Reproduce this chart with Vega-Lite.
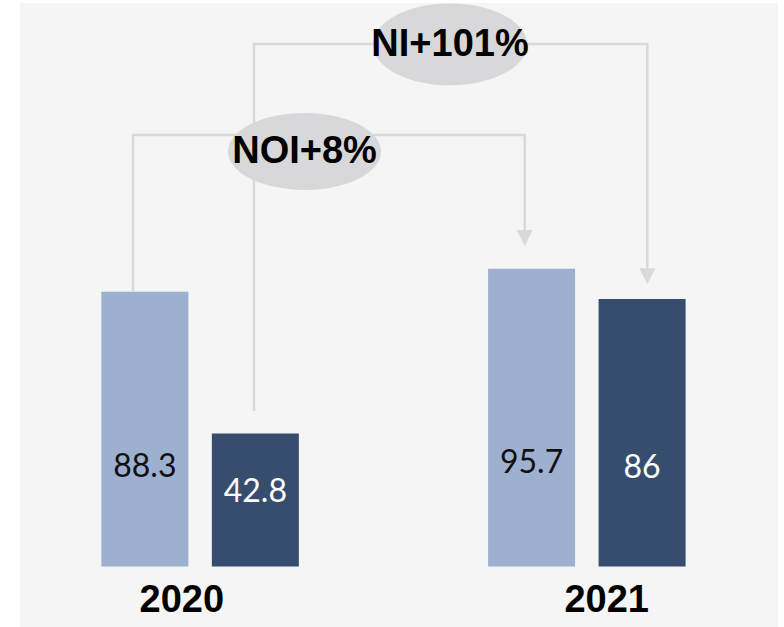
{
  "$schema": "https://vega.github.io/schema/vega-lite/v6.json",
  "width": 758,
  "height": 624,
  "autosize": {"type": "none"},
  "padding": {"left": 20, "top": 3, "right": 6, "bottom": 0},
  "background": "#ffffff",
  "config": {"view": {"fill": "#f5f5f5", "stroke": null}},
  "datasets": {
    "bars": [
      {"year": "2020", "metric": "NOI", "pos": 0, "value": 88.3},
      {"year": "2020", "metric": "NI", "pos": 1, "value": 42.8},
      {"year": "2021", "metric": "NOI", "pos": 3.5, "value": 95.7},
      {"year": "2021", "metric": "NI", "pos": 4.5, "value": 86}
    ],
    "links": [
      {"metric": "NOI", "step": 1, "pos": -0.107, "y": 88.3},
      {"metric": "NOI", "step": 2, "pos": -0.107, "y": 138.7},
      {"metric": "NOI", "step": 3, "pos": 3.438, "y": 138.7},
      {"metric": "NOI", "step": 4, "pos": 3.438, "y": 108.2},
      {"metric": "NI", "step": 1, "pos": 0.988, "y": 50},
      {"metric": "NI", "step": 2, "pos": 0.988, "y": 167.9},
      {"metric": "NI", "step": 3, "pos": 4.547, "y": 167.9},
      {"metric": "NI", "step": 4, "pos": 4.547, "y": 95.9}
    ],
    "badges": [
      {"label": "NI+101%", "pos": 2.762, "y": 167.8},
      {"label": "NOI+8%", "pos": 1.445, "y": 133.4}
    ],
    "years": [
      {"year": "2020", "pos": 0.334},
      {"year": "2021", "pos": 4.18}
    ]
  },
  "layer": [
    {
      "data": {"name": "bars"},
      "mark": {"type": "bar", "width": 87},
      "encoding": {
        "x": {"field": "pos", "type": "quantitative", "scale": {"domain": [-1.13, 5.73], "nice": false, "zero": false, "padding": 0}, "axis": null},
        "y": {"field": "value", "type": "quantitative", "scale": {"domain": [-19.4, 181.1], "nice": false, "zero": false, "padding": 0}, "axis": null},
        "y2": {"datum": 0},
        "color": {"field": "metric", "type": "nominal", "scale": {"domain": ["NOI", "NI"], "range": ["#9eb0cf", "#374d6e"]}, "legend": null}
      }
    },
    {
      "data": {"name": "links"},
      "mark": {"type": "line", "stroke": "#d9d9db", "strokeWidth": 2.5, "strokeJoin": "miter", "strokeCap": "butt"},
      "encoding": {
        "x": {"field": "pos", "type": "quantitative", "scale": {"domain": [-1.13, 5.73], "nice": false, "zero": false, "padding": 0}, "axis": null},
        "y": {"field": "y", "type": "quantitative", "scale": {"domain": [-19.4, 181.1], "nice": false, "zero": false, "padding": 0}, "axis": null},
        "detail": {"field": "metric"},
        "order": {"field": "step", "type": "quantitative"}
      }
    },
    {
      "data": {"name": "links"},
      "transform": [{"filter": "datum.step === 4"}],
      "mark": {"type": "point", "shape": "M-1,-1L1,-1L0,1Z", "size": 256, "filled": true, "fill": "#d9d9db", "opacity": 1, "strokeWidth": 0, "yOffset": 8},
      "encoding": {
        "x": {"field": "pos", "type": "quantitative", "scale": {"domain": [-1.13, 5.73], "nice": false, "zero": false, "padding": 0}, "axis": null},
        "y": {"field": "y", "type": "quantitative", "scale": {"domain": [-19.4, 181.1], "nice": false, "zero": false, "padding": 0}, "axis": null}
      }
    },
    {
      "data": {"name": "badges"},
      "mark": {"type": "point", "filled": true, "fill": "#d8d8da", "opacity": 1, "strokeWidth": 0},
      "encoding": {
        "x": {"field": "pos", "type": "quantitative", "scale": {"domain": [-1.13, 5.73], "nice": false, "zero": false, "padding": 0}, "axis": null},
        "y": {"field": "y", "type": "quantitative", "scale": {"domain": [-19.4, 181.1], "nice": false, "zero": false, "padding": 0}, "axis": null},
        "shape": {
          "field": "label",
          "type": "nominal",
          "scale": {
            "domain": ["NI+101%", "NOI+8%"],
            "range": [
              "M-1,0C-1,-0.294,-0.5523,-0.532,0,-0.532C0.5523,-0.532,1,-0.294,1,0C1,0.294,0.5523,0.532,0,0.532C-0.5523,0.532,-1,0.294,-1,0Z",
              "M-1,0C-1,-0.278,-0.5523,-0.503,0,-0.503C0.5523,-0.503,1,-0.278,1,0C1,0.278,0.5523,0.503,0,0.503C-0.5523,0.503,-1,0.278,-1,0Z"
            ]
          },
          "legend": null
        },
        "size": {"condition": {"test": "datum.label === 'NI+101%'", "value": 23716}, "value": 23409}
      }
    },
    {
      "data": {"name": "badges"},
      "mark": {"type": "text", "font": "Liberation Sans", "fontWeight": "bold", "fontSize": 38, "align": "center", "baseline": "middle", "dy": 1, "color": "#000000"},
      "encoding": {
        "x": {"field": "pos", "type": "quantitative", "scale": {"domain": [-1.13, 5.73], "nice": false, "zero": false, "padding": 0}, "axis": null},
        "y": {"field": "y", "type": "quantitative", "scale": {"domain": [-19.4, 181.1], "nice": false, "zero": false, "padding": 0}, "axis": null},
        "text": {"field": "label"}
      }
    },
    {
      "data": {"name": "bars"},
      "transform": [{"calculate": "datum.value * 0.176 + 16.5", "as": "labelAt"}],
      "mark": {"type": "text", "font": "Lato", "fontWeight": 400, "fontSize": 32, "align": "center", "baseline": "middle"},
      "encoding": {
        "x": {"field": "pos", "type": "quantitative", "scale": {"domain": [-1.13, 5.73], "nice": false, "zero": false, "padding": 0}, "axis": null},
        "y": {"field": "labelAt", "type": "quantitative", "scale": {"domain": [-19.4, 181.1], "nice": false, "zero": false, "padding": 0}, "axis": null},
        "text": {"field": "value"},
        "color": {"condition": {"test": "datum.metric === 'NI'", "value": "#ffffff"}, "value": "#111111"}
      }
    },
    {
      "data": {"name": "years"},
      "mark": {"type": "text", "font": "Liberation Sans", "fontWeight": "bold", "fontSize": 38, "align": "center", "baseline": "alphabetic", "color": "#000000"},
      "encoding": {
        "x": {"field": "pos", "type": "quantitative", "scale": {"domain": [-1.13, 5.73], "nice": false, "zero": false, "padding": 0}, "axis": null},
        "y": {"datum": -14.6, "type": "quantitative", "scale": {"domain": [-19.4, 181.1], "nice": false, "zero": false, "padding": 0}, "axis": null},
        "text": {"field": "year"}
      }
    }
  ]
}
